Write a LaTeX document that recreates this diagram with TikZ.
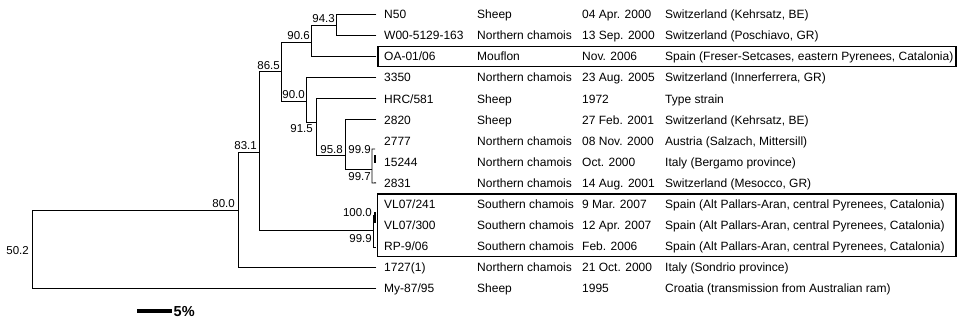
\documentclass[tikz,border=0pt]{standalone}
\usepackage{fontspec}
\setmainfont{Liberation Sans}
\begin{document}
\begin{tikzpicture}[x=1pt,y=-1pt,
  br/.style={line width=0.95pt, line cap=rect},
  thickbr/.style={line width=2pt},
  boxline/.style={line width=1.2pt},
  txt/.style={anchor=base west, inner sep=0pt, font=\fontsize{12}{12}\selectfont},
  bs/.style={anchor=base east, inner sep=0pt, font=\fontsize{11.5}{12}\selectfont},
]
\useasboundingbox (0,0) rectangle (958,322);
% rows
\foreach \nm/\ho/\da/\lo [count=\i from 0] in {
 N50/Sheep/04 Apr. 2000/{Switzerland (Kehrsatz, BE)},
 W00-5129-163/Northern chamois/13 Sep. 2000/{Switzerland (Poschiavo, GR)},
 OA-01\slash 06/Mouflon/Nov. 2006/{Spain (Freser-Setcases, eastern Pyrenees, Catalonia)},
 3350/Northern chamois/23 Aug. 2005/{Switzerland (Innerferrera, GR)},
 HRC\slash 581/Sheep/1972/{Type strain},
 2820/Sheep/27 Feb. 2001/{Switzerland (Kehrsatz, BE)},
 2777/Northern chamois/08 Nov. 2000/{Austria (Salzach, Mittersill)},
 15244/Northern chamois/Oct. 2000/{Italy (Bergamo province)},
 2831/Northern chamois/14 Aug. 2001/{Switzerland (Mesocco, GR)},
 VL07\slash 241/Southern chamois/9 Mar. 2007/{Spain (Alt Pallars-Aran, central Pyrenees, Catalonia)},
 VL07\slash 300/Southern chamois/12 Apr. 2007/{Spain (Alt Pallars-Aran, central Pyrenees, Catalonia)},
 RP-9\slash 06/Southern chamois/Feb. 2006/{Spain (Alt Pallars-Aran, central Pyrenees, Catalonia)},
 1727(1)/Northern chamois/21 Oct. 2000/{Italy (Sondrio province)},
 My-87\slash 95/Sheep/1995/{Croatia (transmission from Australian ram)}}
{
 \pgfmathsetmacro{\yy}{14.5+21.05*\i}
 \coordinate (leaf\i) at (376,\yy);
 \node[txt] (name\i) at (384,\yy+4.3) {\nm};
 \node[txt] (host\i) at (477,\yy+4.3) {\ho};
 \node[txt] (date\i) at (582,\yy+4.3) {\da};
 \node[txt] (loc\i) at (665,\yy+4.3) {\lo};
}
% internal nodes
\coordinate (root) at (32,249);
\coordinate (n800) at (238,210);
\coordinate (n831) at (259,152);
\coordinate (n865) at (281,71.5);
\coordinate (n906) at (311,42);
\coordinate (n943) at (336,25);
\coordinate (n900) at (306,101);
\coordinate (n915) at (316,122);
\coordinate (n958) at (345,155.5);
\coordinate (n997) at (372,169);
\coordinate (nvl) at (373,230);
% branches
\draw[br] (root) |- (n800);
\draw[br] (root) |- (leaf13);
\draw[br] (n800) |- (n831);
\draw[br] (n800) |- (leaf12);
\draw[br] (n831) |- (n865);
\draw[br] (n831) |- (nvl);
\draw[br] (n865) |- (n906);
\draw[br] (n865) |- (n900);
\draw[br] (n906) |- (n943);
\draw[br] (n906) |- (leaf2);
\draw[br] (n943) |- (leaf0);
\draw[br] (n943) |- (leaf1);
\draw[br] (n900) |- (leaf3);
\draw[br] (n900) |- (n915);
\draw[br] (n915) |- (leaf4);
\draw[br] (n915) |- (n958);
\draw[br] (n958) |- (leaf5);
\draw[br] (n958) |- (n997);
% tiny brackets
\coordinate (b1t) at (372,149);
\coordinate (b1b) at (372,183);
\draw[line width=0.9pt] ([xshift=3pt]b1t) -- (b1t) -- (b1b) -- (leaf8);
\draw[thickbr] (374.5,155) -- (374.5,163);
\coordinate (b2t) at (373,215);
\coordinate (b2b) at (373,247);
\draw[line width=0.9pt] ([xshift=3pt]b2t) -- (b2t) -- (b2b) -- ([xshift=3pt]b2b);
\draw[thickbr] (375,212) -- (375,223);
% bootstrap values
\node[bs] (v943) at (335,22.5) {94.3};
\node[bs] (v906) at (310,39.5) {90.6};
\node[bs] (v865) at (280,69) {86.5};
\node[bs] (v900) at (305,98.5) {90.0};
\node[bs] (v915) at (313,132) {91.5};
\node[bs] (v958) at (343,153) {95.8};
\node[bs] (v999a) at (371,153) {99.9};
\node[bs] (v997) at (371,180) {99.7};
\node[bs] (v831) at (257,149.5) {83.1};
\node[bs] (v800) at (235,207.5) {80.0};
\node[bs] (v502) at (29,254) {50.2};
\node[bs] (v1000) at (372,216) {100.0};
\node[bs] (v999b) at (372,242) {99.9};
% boxes
\draw[boxline] (378,46.5) rectangle (956,66.5);
\draw[boxline] (377.5,194) rectangle (956,256.5);
% scale bar
\coordinate (sb1) at (137,311);
\coordinate (sb2) at (172,311);
\draw[line width=4pt] (sb1) -- (sb2);
\node[anchor=base west, inner sep=0pt, font=\fontsize{14.5}{14.5}\selectfont\bfseries] (sbl) at (173.5,316.5) {5\%};
\end{tikzpicture}
\end{document}
